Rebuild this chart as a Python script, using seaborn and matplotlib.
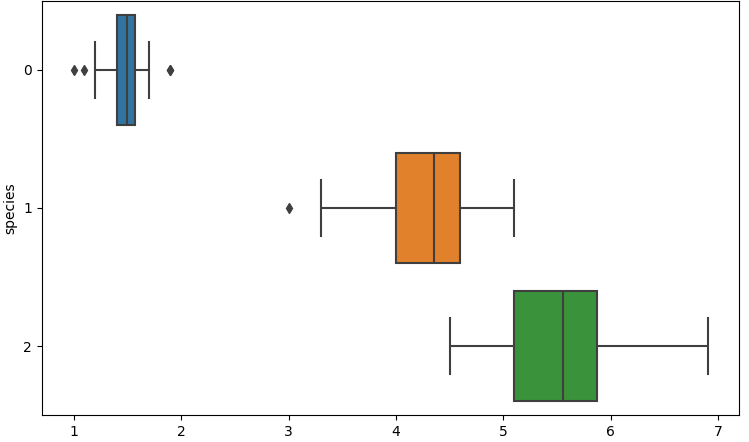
import numpy as np
import pandas as pd
import matplotlib
matplotlib.use("Agg")
import matplotlib.pyplot as plt
import seaborn as sns

# iris petal length by species (0 = setosa, 1 = versicolor, 2 = virginica)
setosa = [1.4, 1.4, 1.3, 1.5, 1.4, 1.7, 1.4, 1.5, 1.4, 1.5, 1.5, 1.6, 1.4, 1.1, 1.2,
          1.5, 1.3, 1.4, 1.7, 1.5, 1.7, 1.5, 1.0, 1.7, 1.9, 1.6, 1.6, 1.5, 1.4, 1.6,
          1.6, 1.5, 1.5, 1.4, 1.5, 1.2, 1.3, 1.4, 1.3, 1.5, 1.3, 1.3, 1.3, 1.6, 1.9,
          1.4, 1.6, 1.4, 1.5, 1.4]
versicolor = [4.7, 4.5, 4.9, 4.0, 4.6, 4.5, 4.7, 3.3, 4.6, 3.9, 3.5, 4.2, 4.0, 4.7, 3.6,
              4.4, 4.5, 4.1, 4.5, 3.9, 4.8, 4.0, 4.9, 4.7, 4.3, 4.4, 4.8, 5.0, 4.5, 3.5,
              3.8, 3.7, 3.9, 5.1, 4.5, 4.5, 4.7, 4.4, 4.1, 4.0, 4.4, 4.6, 4.0, 3.3, 4.2,
              4.2, 4.2, 4.3, 3.0, 4.1]
virginica = [6.0, 5.1, 5.9, 5.6, 5.8, 6.6, 4.5, 6.3, 5.8, 6.1, 5.1, 5.3, 5.5, 5.0, 5.1,
             5.3, 5.5, 6.7, 6.9, 5.0, 5.7, 4.9, 6.7, 4.9, 5.7, 6.0, 4.8, 4.9, 5.6, 5.8,
             6.1, 6.4, 5.6, 5.1, 5.6, 6.1, 5.6, 5.5, 4.8, 5.4, 5.6, 5.1, 5.1, 5.9, 5.7,
             5.2, 5.0, 5.2, 5.4, 5.1]

df = pd.DataFrame({
    "petal_length": setosa + versicolor + virginica,
    "species": [0] * len(setosa) + [1] * len(versicolor) + [2] * len(virginica),
})

colors = ["#3274a1", "#e1812c", "#3a923a"]
gray = "#3f3f3f"

fig, ax = plt.subplots(figsize=(7.49, 4.42), dpi=100)
sns.boxplot(data=df, x="petal_length", y="species", hue="species", orient="h",
            palette=colors, legend=False, saturation=1, linewidth=1.5,
            linecolor=gray,
            flierprops=dict(marker="d", markerfacecolor=gray, markeredgecolor=gray,
                            markersize=5),
            ax=ax)
ax.set_xlabel("")
ax.set_ylabel("species")
plt.subplots_adjust(left=0.056, right=0.987, top=0.998, bottom=0.061)
plt.savefig("out.png", dpi=100)
